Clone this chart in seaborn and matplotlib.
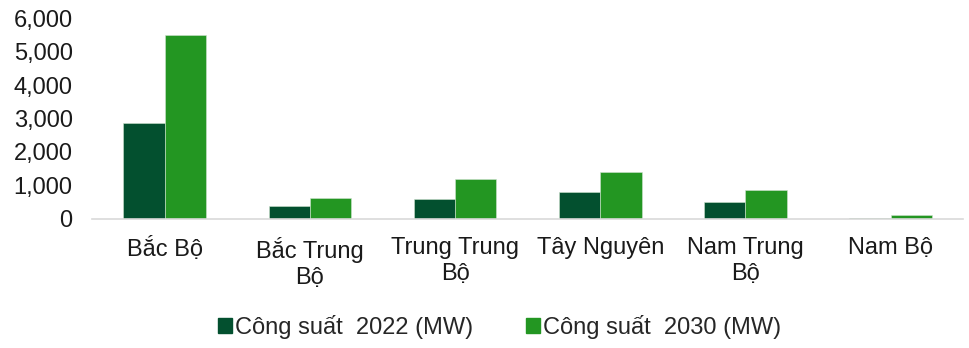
import pandas as pd
import matplotlib
matplotlib.use("Agg")
import matplotlib.pyplot as plt
import matplotlib.ticker as mticker
import seaborn as sns

sns.set_theme(style="white")
plt.rcParams["font.family"] = ["Liberation Sans", "DejaVu Sans"]

# Data
regions = ["Bắc Bộ", "Bắc Trung\nBộ", "Trung Trung\nBộ", "Tây Nguyên", "Nam Trung\nBộ", "Nam Bộ"]
cap_2022 = [2870, 400, 600, 790, 490, 40]
cap_2030 = [5500, 630, 1180, 1400, 850, 130]
series = ["Công suất  2022 (MW)", "Công suất  2030 (MW)"]
colors = ["#03502F", "#239622"]

df = pd.DataFrame({
    "region": regions * 2,
    "value": cap_2022 + cap_2030,
    "series": [series[0]] * len(regions) + [series[1]] * len(regions),
})

fig = plt.figure(figsize=(9.7, 3.48), dpi=100)
ax = fig.add_axes([0.095, 0.371, 0.898, 0.577])

sns.barplot(data=df, x="region", y="value", hue="series", palette=colors,
            width=0.57, gap=0, ax=ax, legend=False, saturation=1,
            edgecolor="#cfe3cf", linewidth=0.4)

ax.set_xlim(-0.5, len(regions) - 0.5)
ax.set_ylim(0, 6000)
ax.yaxis.set_major_locator(mticker.MultipleLocator(1000))
ax.yaxis.set_major_formatter(mticker.StrMethodFormatter("{x:,.0f}"))
ax.tick_params(axis="y", labelsize=17, length=0, pad=14, colors="#1a1a1a")

# category boundaries get tick marks, labels sit at centres
ax.set_xticks([i - 0.5 for i in range(len(regions) + 1)])
ax.set_xticklabels([])
ax.set_xticks(range(len(regions)), minor=True)
ax.set_xticklabels(regions, minor=True, fontsize=17, color="#1a1a1a", linespacing=1.25)
ax.tick_params(axis="x", which="major", length=7, width=1, color="#d9d9d9", direction="out")
ax.tick_params(axis="x", which="minor", length=0, pad=13)

for side in ["top", "right", "left"]:
    ax.spines[side].set_visible(False)
ax.spines["bottom"].set_color("#d9d9d9")
ax.spines["bottom"].set_linewidth(1.2)
ax.set_xlabel("")
ax.set_ylabel("")
ax.grid(False)

handles = [plt.Rectangle((0, 0), 1, 1, color=c) for c in colors]
fig.legend(handles, series, loc="center", bbox_to_anchor=(0.515, 0.06), ncol=2,
           frameon=False, fontsize=17, handlelength=0.6, handleheight=0.6,
           handletextpad=0.15, columnspacing=2.2)

fig.savefig("out.png", dpi=100)
